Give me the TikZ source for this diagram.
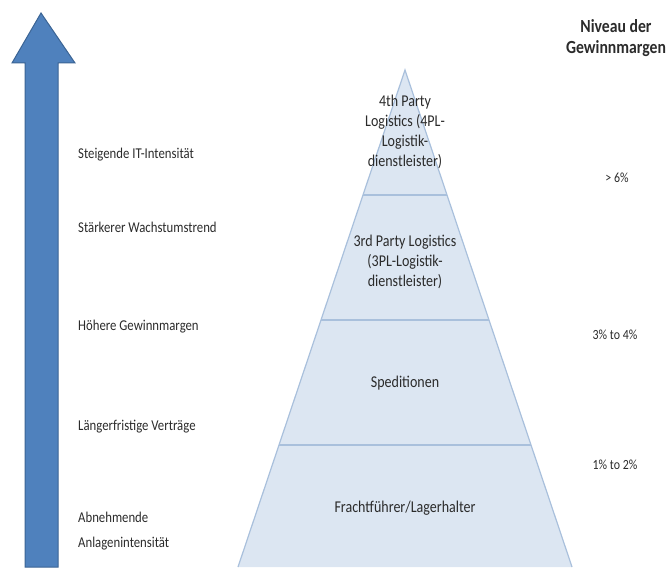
\documentclass[tikz,border=0pt]{standalone}
\usepackage{fontspec}
\setmainfont{Carlito}[FakeStretch=0.85]
\definecolor{arrowblue}{HTML}{4F81BD}
\definecolor{arrowedge}{HTML}{3B6494}
\definecolor{pyrfill}{HTML}{DCE6F2}
\definecolor{pyredge}{HTML}{A9C0DC}
\definecolor{inktext}{HTML}{2B2B2B}

\tikzstyle{trait}=[anchor=west, inner sep=0pt, text=inktext, align=left,
  font=\fontsize{15}{25}\selectfont]
\tikzstyle{level}=[inner sep=0pt, text=inktext, align=center,
  font=\fontsize{16.5}{20}\selectfont]
\tikzstyle{margin}=[inner sep=0pt, text=inktext, font=\fontsize{14}{15}\selectfont]

\begin{document}
\begin{tikzpicture}[x=1pt, y=-1pt]
\useasboundingbox (0,0) rectangle (668,567);

% arrow on the left
\fill [arrowblue, draw=arrowedge, line width=1pt]
  (25,567) -- (25,63) -- (12,63) -- (41,13) -- (75,63) -- (58,63) -- (58,567) -- cycle;

% pyramid
\fill [pyrfill] (405,70) -- (238,567) -- (572,567) -- cycle;
\draw [pyredge, line width=1.2pt] (238,567) -- (405,70) -- (572,567);
\foreach \y in {195,320,445}
  \draw [pyredge, line width=2pt] ({405-0.336*(\y-70)},\y) -- ({405+0.336*(\y-70)},\y);

% layers
\node [level] (fourpl) at (405,132) {4th Party\\Logistics (4PL-\\Logistik-\\dienstleister)};
\node [level] (threepl) at (405,262) {3rd Party Logistics\\(3PL-Logistik-\\dienstleister)};
\node [level] (spedition) at (405,383) {Speditionen};
\node [level] (fracht) at (405,508) {Frachtführer/Lagerhalter};

% traits
\node [trait] (itint) at (78,155) {Steigende IT-Intensität};
\node [trait] (wachstum) at (78,227) {Stärkerer Wachstumstrend};
\node [trait] (gewinn) at (78,327) {Höhere Gewinnmargen};
\node [trait] (vertrag) at (78,427) {Längerfristige Verträge};
\node [trait] (anlagen) at (78,531) {Abnehmende\\Anlagenintensität};

% margins
\node [margin, align=center, font=\bfseries\fontsize{18.5}{21}\selectfont] (niveau) at (616,38) {Niveau der\\Gewinnmargen};
\node [margin] (sechs) at (617,178) {> 6\%};
\node [margin] (drei) at (615,335) {3\% to 4\%};
\node [margin] (eins) at (615,465) {1\% to 2\%};
\end{tikzpicture}
\end{document}
